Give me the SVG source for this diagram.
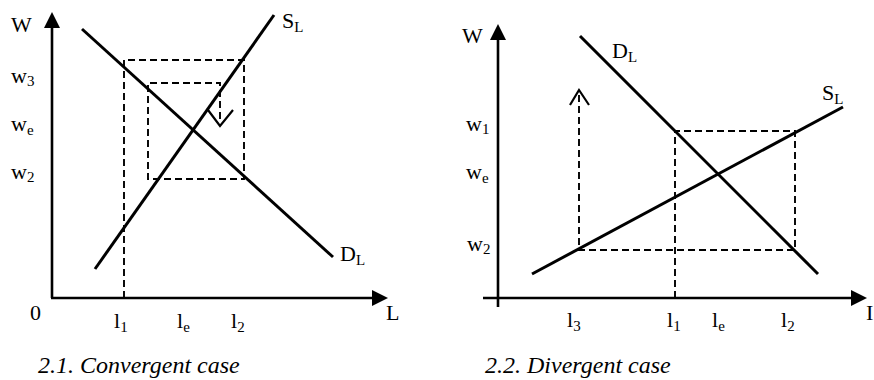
<svg xmlns="http://www.w3.org/2000/svg" width="874" height="380" viewBox="0 0 874 380">
<style>
.ax{stroke:#000;stroke-width:2.6;fill:none}
.cv{stroke:#000;stroke-width:3;fill:none;stroke-linecap:butt}
.ds{stroke:#000;stroke-width:1.9;fill:none;stroke-dasharray:7,4}
.ah{stroke:#000;stroke-width:2.2;fill:none}
.s{font-size:15px}
</style>
<rect width="874" height="380" fill="#fff"/>
<g id="left-panel">
  <g id="left-axes">
    <line class="ax" x1="52" y1="26" x2="52" y2="298"/>
    <polygon points="52,12 44,28 60,28" fill="#000"/>
    <line class="ax" x1="51" y1="298" x2="374" y2="298"/>
    <polygon points="388,298 372,290 372,306" fill="#000"/>
  </g>
  <g id="left-dashed">
    <path class="ds" d="M124,298 V60 H244 V179 H148 V83 H220 V122"/>
    <polyline class="ah" points="208,110 220,126 233,110"/>
  </g>
  <g id="left-curves">
    <line class="cv" x1="95" y1="269" x2="274" y2="15"/>
    <line class="cv" x1="82" y1="29" x2="333" y2="257"/>
  </g>
  <g id="left-labels" font-family="Liberation Serif, Times New Roman, serif" font-size="22" fill="#000">
    <text x="11" y="32">W</text>
    <text x="11" y="83">w<tspan class="s" dy="3">3</tspan></text>
    <text x="11" y="131">w<tspan class="s" dy="4">e</tspan></text>
    <text x="11" y="179">w<tspan class="s" dy="3">2</tspan></text>
    <text x="282" y="28">S<tspan class="s" dy="4">L</tspan></text>
    <text x="340" y="261">D<tspan class="s" dy="4">L</tspan></text>
    <text x="30" y="320">0</text>
    <text x="386" y="320">L</text>
    <text x="114" y="328">l<tspan class="s" dy="4">1</tspan></text>
    <text x="177" y="328">l<tspan class="s" dy="4">e</tspan></text>
    <text x="231" y="328">l<tspan class="s" dy="4">2</tspan></text>
    <text x="38" y="373" font-size="24" font-style="italic">2.1. Convergent case</text>
  </g>
</g>
<g id="right-panel">
  <g id="right-axes">
    <line class="ax" x1="498" y1="38" x2="498" y2="307"/>
    <polygon points="498,24 490,40 506,40" fill="#000"/>
    <line class="ax" x1="483" y1="298" x2="853" y2="298"/>
    <polygon points="867,298 851,290 851,306" fill="#000"/>
  </g>
  <g id="right-dashed">
    <path class="ds" d="M675,298 V131 H795 V250 H579 V94"/>
    <polyline class="ah" points="570,105 579,90 589,105"/>
  </g>
  <g id="right-curves">
    <line class="cv" x1="580" y1="36" x2="818" y2="274"/>
    <line class="cv" x1="532" y1="274" x2="843" y2="107"/>
  </g>
  <g id="right-labels" font-family="Liberation Serif, Times New Roman, serif" font-size="22" fill="#000">
    <text x="462" y="43">W</text>
    <text x="466" y="131">w<tspan class="s" dy="3">1</tspan></text>
    <text x="466" y="179">w<tspan class="s" dy="4">e</tspan></text>
    <text x="467" y="251">w<tspan class="s" dy="3">2</tspan></text>
    <text x="612" y="58">D<tspan class="s" dy="4">L</tspan></text>
    <text x="822" y="100">S<tspan class="s" dy="4">L</tspan></text>
    <text x="866" y="320">I</text>
    <text x="567" y="327">l<tspan class="s" dy="4">3</tspan></text>
    <text x="667" y="327">l<tspan class="s" dy="4">1</tspan></text>
    <text x="712" y="327">l<tspan class="s" dy="4">e</tspan></text>
    <text x="781" y="327">l<tspan class="s" dy="4">2</tspan></text>
    <text x="485" y="373" font-size="24" font-style="italic">2.2. Divergent case</text>
  </g>
</g>
</svg>
